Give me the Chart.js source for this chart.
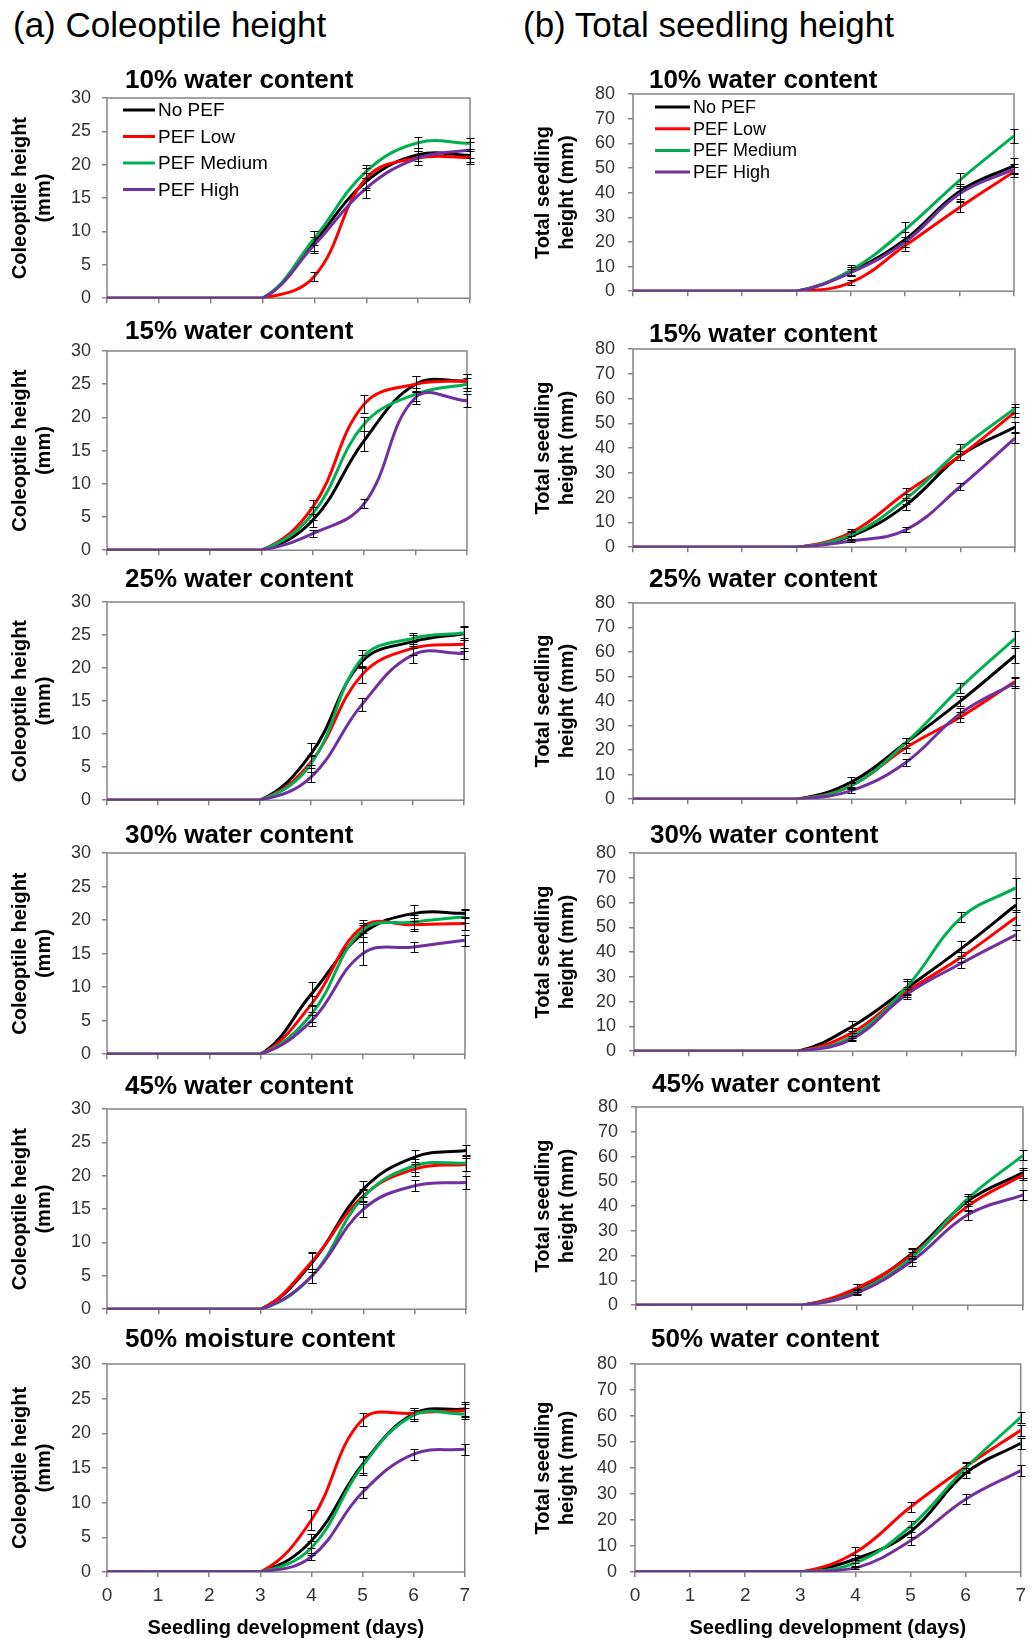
<!DOCTYPE html>
<html>
<head>
<meta charset="utf-8">
<script src="https://cdn.jsdelivr.net/npm/chart.js@4.4.1/dist/chart.umd.min.js"></script>
<style>
  body { margin: 0; background: #fff; width: 1036px; height: 1640px; position: relative; overflow: hidden;
         font-family: 'Liberation Sans', Arial, sans-serif; }
  .head { position: absolute; top: 5px; font-size: 35px; line-height: 40px; color: #000; white-space: nowrap; }
  canvas { position: absolute; }
</style>
</head>
<body>
<div class="head" style="left:13px">(a) Coleoptile height</div>
<div class="head" style="left:523px">(b) Total seedling height</div>
<script>
const days = [0, 1, 2, 3, 4, 5, 6, 7];
const errorDays = [4, 5, 6, 7];
const seriesNames = ['No PEF', 'PEF Low', 'PEF Medium', 'PEF High'];
const seriesColors = ['#000000', '#ff0000', '#00b050', '#7030a0'];
const coleoptileTicks = [0, 5, 10, 15, 20, 25, 30];
const totalTicks = [0, 10, 20, 30, 40, 50, 60, 70, 80];

const leftTitles = ['10% water content', '15% water content', '25% water content',
  '30% water content', '45% water content', '50% moisture content'];
const rightTitles = ['10% water content', '15% water content', '25% water content',
  '30% water content', '45% water content', '50% water content'];

// coleoptile height (mm), one row per water content
const coleoptileNoPEF = [
  [0, 0, 0, 0, 8.5, 17.5, 21.5, 21.4],
  [0, 0, 0, 0, 4.5, 16.5, 25, 25.5],
  [0, 0, 0, 0, 7, 21, 24, 25.2],
  [0, 0, 0, 0, 9, 18, 21, 21],
  [0, 0, 0, 0, 7, 18, 22.8, 23.8],
  [0, 0, 0, 0, 4.5, 15.5, 22.8, 23.5]
];
const coleoptileLow = [
  [0, 0, 0, 0, 3.3, 18, 21, 21.1],
  [0, 0, 0, 0, 6.5, 22, 25, 25.5],
  [0, 0, 0, 0, 5.8, 19, 23, 23.6],
  [0, 0, 0, 0, 7.5, 19, 19.3, 19.5],
  [0, 0, 0, 0, 7.2, 17, 21, 21.7],
  [0, 0, 0, 0, 7.5, 22, 22.9, 23.3]
];
const coleoptileMedium = [
  [0, 0, 0, 0, 9, 19, 23.3, 23.2],
  [0, 0, 0, 0, 5.5, 19, 23.5, 25],
  [0, 0, 0, 0, 5.5, 21.5, 24.5, 25.3],
  [0, 0, 0, 0, 6, 18.5, 19.7, 20.5],
  [0, 0, 0, 0, 5, 16.8, 21.5, 21.9],
  [0, 0, 0, 0, 3.5, 15.3, 22.6, 22.8]
];
const coleoptileHigh = [
  [0, 0, 0, 0, 8, 16.5, 21, 22.2],
  [0, 0, 0, 0, 2.5, 7, 23, 22.5],
  [0, 0, 0, 0, 3.5, 14.5, 22, 22.2],
  [0, 0, 0, 0, 5, 15, 16, 17],
  [0, 0, 0, 0, 5, 15, 18.5, 19],
  [0, 0, 0, 0, 2.2, 11.5, 17, 17.7]
];

// total seedling height (mm)
const totalNoPEF = [
  [0, 0, 0, 0, 8, 21, 40.5, 51],
  [0, 0, 0, 0, 4.5, 17, 37, 48.5],
  [0, 0, 0, 0, 7, 23, 40, 58.5],
  [0, 0, 0, 0, 10, 25.5, 41.5, 59],
  [0, 0, 0, 0, 6.5, 21, 42, 53.5],
  [0, 0, 0, 0, 5, 15.5, 38, 49.5]
];
const totalLow = [
  [0, 0, 0, 0, 3.5, 18.5, 34, 48.5],
  [0, 0, 0, 0, 6, 22, 37, 54.5],
  [0, 0, 0, 0, 5.5, 21, 33.5, 48],
  [0, 0, 0, 0, 7.5, 24, 38, 54],
  [0, 0, 0, 0, 7, 20.5, 40, 52.5],
  [0, 0, 0, 0, 7.5, 25, 40.5, 54.5]
];
const totalMedium = [
  [0, 0, 0, 0, 8.5, 25, 45, 63],
  [0, 0, 0, 0, 5, 19.5, 39.5, 56],
  [0, 0, 0, 0, 5.5, 23, 45.5, 65.5],
  [0, 0, 0, 0, 6, 26, 54, 66],
  [0, 0, 0, 0, 5.5, 19.5, 43, 60.5],
  [0, 0, 0, 0, 3.5, 17.5, 40, 59.5]
];
const totalHigh = [
  [0, 0, 0, 0, 7.5, 20, 39.5, 49.5],
  [0, 0, 0, 0, 2.5, 7, 24.5, 44],
  [0, 0, 0, 0, 3.5, 15, 35, 47.5],
  [0, 0, 0, 0, 5, 23, 35.5, 47],
  [0, 0, 0, 0, 5, 18, 36.5, 44.5],
  [0, 0, 0, 0, 1.5, 12, 28, 39]
];

// error bars for days 4-7
const coleoptileErrNoPEF = [[1.5, 1.3, 1, 1], [1, 1.5, 1.2, 1], [1.7, 1, 1, 1], [1.7, 1.2, 1.2, 0.7], [1.5, 1.2, 1, 0.8], [1, 1.2, 0.8, 1]];
const coleoptileErrLow = [[0.7, 1.5, 1, 1], [1, 1.3, 1.2, 1], [1, 1.2, 1, 1], [1.2, 1, 1, 1], [1.2, 1, 1, 1], [1.5, 1, 0.8, 1]];
const coleoptileErrMedium = [[1, 1, 0.8, 0.8], [1, 1, 1, 1], [1.2, 1.2, 0.8, 1], [1.2, 1, 1, 1], [1, 1, 1, 1.2], [1, 1.3, 0.8, 0.8]];
const coleoptileErrHigh = [[1.2, 1.5, 1, 1.2], [0.5, 0.7, 1, 1], [0.8, 1, 1.3, 0.8], [0.8, 1.7, 0.7, 0.8], [1, 1.2, 0.8, 1], [0.5, 0.8, 0.8, 0.8]];
const totalErrNoPEF = [[2, 3, 3, 3], [1.5, 2, 2, 2], [2, 2, 2, 3], [2, 3, 3, 3], [2, 2, 2, 2], [1.5, 2, 2, 2]];
const totalErrLow = [[1, 2, 2, 2], [1.5, 2, 2, 2], [1, 2, 2, 2], [2, 2, 2, 3], [1.5, 2, 2, 2], [2, 2, 2, 2]];
const totalErrMedium = [[2, 3, 3, 3], [1.5, 2, 2, 2], [1.5, 2, 2, 3], [1.5, 3, 2, 4], [1, 2, 2, 2], [1, 2, 2, 2]];
const totalErrHigh = [[1.5, 2, 3, 2], [0.5, 1, 1.5, 2], [1, 1.5, 2, 2], [1, 2, 2, 2], [1, 2, 2, 2], [0.5, 1.5, 2, 2]];

// plot rectangles on the page
const leftBoxes = [
  {top: 98, bottom: 306, left: 107, right: 470, titleY: 88},
  {top: 351, bottom: 558, left: 107, right: 467, titleY: 339},
  {top: 602, bottom: 808, left: 107, right: 464, titleY: 587},
  {top: 853, bottom: 1062, left: 107, right: 465, titleY: 843},
  {top: 1109, bottom: 1317, left: 107, right: 466, titleY: 1094},
  {top: 1364, bottom: 1572, left: 107, right: 467, titleY: 1347}
];
const rightBoxes = [
  {top: 94, bottom: 301, left: 633, right: 1014, titleY: 88},
  {top: 349, bottom: 557, left: 633, right: 1015, titleY: 342},
  {top: 603, bottom: 809, left: 633, right: 1015, titleY: 587},
  {top: 853, bottom: 1061, left: 634, right: 1016, titleY: 843},
  {top: 1107, bottom: 1315, left: 636, right: 1023, titleY: 1092},
  {top: 1364, bottom: 1572, left: 635, right: 1023, titleY: 1347}
];

Chart.defaults.font.family = "'Liberation Sans', Arial, sans-serif";
Chart.defaults.color = '#333';

const frame = {
  id: 'frame',
  beforeDatasetsDraw(chart) {
    const {ctx, chartArea: a} = chart;
    ctx.save();
    ctx.strokeStyle = '#858585';
    ctx.lineWidth = 1.5;
    ctx.strokeRect(a.left, a.top, a.right - a.left, a.bottom - a.top);
    ctx.restore();
  }
};

const errorBars = {
  id: 'errorBars',
  afterDatasetsDraw(chart) {
    const {ctx, scales: {x, y}} = chart;
    ctx.save();
    ctx.strokeStyle = '#000';
    ctx.lineWidth = 1;
    chart.data.datasets.forEach(ds => {
      errorDays.forEach((d, k) => {
        const v = ds.data[days.indexOf(d)].y;
        const e = ds.errors[k];
        const px = Math.round(x.getPixelForValue(d)) + 0.5;
        const t = Math.round(y.getPixelForValue(v + e)) + 0.5;
        const b = Math.round(y.getPixelForValue(v - e)) + 0.5;
        ctx.beginPath();
        ctx.moveTo(px, t); ctx.lineTo(px, b);
        ctx.moveTo(px - 4, t); ctx.lineTo(px + 4, t);
        ctx.moveTo(px - 4, b); ctx.lineTo(px + 4, b);
        ctx.stroke();
      });
    });
    ctx.restore();
  }
};

const panelText = {
  id: 'panelText',
  afterDraw(chart, args, opts) {
    const {ctx, chartArea: a} = chart;
    ctx.save();
    ctx.fillStyle = '#000';
    ctx.font = "bold 26px 'Liberation Sans', Arial, sans-serif";
    ctx.textBaseline = 'alphabetic';
    ctx.textAlign = 'left';
    ctx.fillText(opts.title, a.left + opts.titleDx, opts.titleY);
    if (opts.legend) {
      const L = opts.legend;
      ctx.font = L.size + "px 'Liberation Sans', Arial, sans-serif";
      ctx.textBaseline = 'middle';
      chart.data.datasets.forEach((ds, i) => {
        const yy = a.top + L.first + i * L.step;
        ctx.strokeStyle = ds.borderColor;
        ctx.lineWidth = 3;
        ctx.beginPath();
        ctx.moveTo(a.left + L.x0, yy);
        ctx.lineTo(a.left + L.x1, yy);
        ctx.stroke();
        ctx.fillStyle = '#000';
        ctx.fillText(ds.label, a.left + L.x1 + 3, yy + 1);
      });
    }
    ctx.restore();
  }
};

function drawPanel(col, row) {
  const isLeft = col === 0;
  const box = (isLeft ? leftBoxes : rightBoxes)[row];
  const canvasLeft = isLeft ? 0 : 516;
  const canvasTop = box.top - 40;
  const last = row === 5;
  const bottomSpace = last ? 1640 - box.bottom : 14;
  const width = box.right + 10 - canvasLeft;
  const height = box.bottom + bottomSpace - canvasTop;

  const canvas = document.createElement('canvas');
  canvas.width = width;
  canvas.height = height;
  canvas.style.left = canvasLeft + 'px';
  canvas.style.top = canvasTop + 'px';
  canvas.style.width = width + 'px';
  canvas.style.height = height + 'px';
  document.body.appendChild(canvas);

  const sets = isLeft
    ? [coleoptileNoPEF, coleoptileLow, coleoptileMedium, coleoptileHigh]
    : [totalNoPEF, totalLow, totalMedium, totalHigh];
  const errs = isLeft
    ? [coleoptileErrNoPEF, coleoptileErrLow, coleoptileErrMedium, coleoptileErrHigh]
    : [totalErrNoPEF, totalErrLow, totalErrMedium, totalErrHigh];
  const yTicks = isLeft ? coleoptileTicks : totalTicks;

  let legend = null;
  if (row === 0) {
    legend = isLeft
      ? {x0: 16, x1: 48, first: 12, step: 26.5, size: 19}
      : {x0: 22, x1: 57, first: 13, step: 21.7, size: 18};
  }

  new Chart(canvas, {
    type: 'line',
    data: {
      datasets: seriesNames.map((name, s) => ({
        label: name,
        data: days.map((d, i) => ({x: d, y: sets[s][row][i]})),
        errors: errs[s][row],
        borderColor: seriesColors[s],
        backgroundColor: seriesColors[s],
        borderWidth: 3,
        pointRadius: 0,
        tension: 0.4,
        fill: false,
        order: 3 - s
      }))
    },
    options: {
      responsive: false,
      animation: false,
      devicePixelRatio: 1,
      layout: {padding: {left: 0, top: 40, right: width - (box.right - canvasLeft), bottom: 0}},
      plugins: {
        legend: {display: false},
        tooltip: {enabled: false},
        panelText: {
          title: (isLeft ? leftTitles : rightTitles)[row],
          titleDx: isLeft ? 18 : 16,
          titleY: box.titleY - canvasTop,
          legend: legend
        }
      },
      scales: {
        x: {
          type: 'linear',
          min: days[0],
          max: days[days.length - 1],
          afterFit: (s) => { s.height = bottomSpace; },
          ticks: {stepSize: 1, display: last, padding: 7, color: '#333',
                  font: {size: 19}},
          grid: {drawOnChartArea: false, drawTicks: true, tickLength: 5, color: '#858585', lineWidth: 1.5},
          border: {display: false},
          title: {
            display: last,
            text: 'Seedling development (days)',
            color: '#000',
            font: {size: 20, weight: 'bold', lineHeight: 1.2},
            padding: {top: 0, bottom: 0}
          }
        },
        y: {
          min: yTicks[0],
          max: yTicks[yTicks.length - 1],
          afterFit: (s) => { s.width = box.left - canvasLeft; },
          ticks: {stepSize: yTicks[1] - yTicks[0], autoSkip: false, padding: isLeft ? 11 : 13,
                  color: '#333', font: {size: 18}},
          grid: {drawOnChartArea: false, drawTicks: true, tickLength: 5, color: '#858585', lineWidth: 1.5},
          border: {display: false},
          title: {
            display: true,
            text: isLeft ? ['Coleoptile height', '(mm)'] : ['Total seedling', 'height (mm)'],
            color: '#000',
            font: {size: 20, weight: 'bold', lineHeight: 1.2},
            padding: {top: isLeft ? 8 : 15, bottom: 0}
          }
        }
      }
    },
    plugins: [frame, errorBars, panelText]
  });
}

for (let row = 0; row < 6; row++) {
  drawPanel(0, row);
  drawPanel(1, row);
}
</script>
</body>
</html>
